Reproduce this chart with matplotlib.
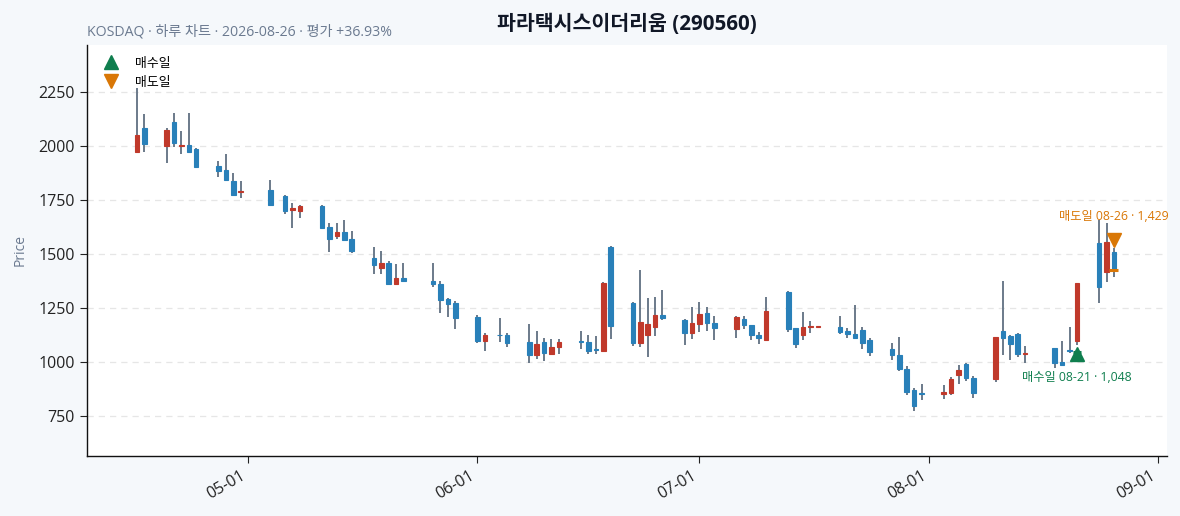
import matplotlib
matplotlib.use("Agg")
import matplotlib.pyplot as plt
import matplotlib.dates as mdates
from matplotlib.lines import Line2D
import numpy as np
import datetime as dt

plt.rcParams['font.family'] = ['Open Sans', 'Noto Sans CJK KR', 'DejaVu Sans']

# ---------------- data ----------------
dates = ["2026-04-16", "2026-04-17", "2026-04-20", "2026-04-21", "2026-04-22", "2026-04-23", "2026-04-24",
         "2026-04-27", "2026-04-28", "2026-04-29", "2026-04-30", "2026-05-04", "2026-05-06", "2026-05-07",
         "2026-05-08", "2026-05-11", "2026-05-12", "2026-05-13", "2026-05-14", "2026-05-15", "2026-05-18",
         "2026-05-19", "2026-05-20", "2026-05-21", "2026-05-22", "2026-05-26", "2026-05-27", "2026-05-28",
         "2026-05-29", "2026-06-01", "2026-06-02", "2026-06-04", "2026-06-05", "2026-06-08", "2026-06-09",
         "2026-06-10", "2026-06-11", "2026-06-12", "2026-06-15", "2026-06-16", "2026-06-17", "2026-06-18",
         "2026-06-19", "2026-06-22", "2026-06-23", "2026-06-24", "2026-06-25", "2026-06-26", "2026-06-29",
         "2026-06-30", "2026-07-01", "2026-07-02", "2026-07-03", "2026-07-06", "2026-07-07", "2026-07-08",
         "2026-07-09", "2026-07-10", "2026-07-13", "2026-07-14", "2026-07-15", "2026-07-16", "2026-07-17",
         "2026-07-20", "2026-07-21", "2026-07-22", "2026-07-23", "2026-07-24", "2026-07-27", "2026-07-28",
         "2026-07-29", "2026-07-30", "2026-07-31", "2026-08-03", "2026-08-04", "2026-08-05", "2026-08-06",
         "2026-08-07", "2026-08-10", "2026-08-11", "2026-08-12", "2026-08-13", "2026-08-14", "2026-08-18",
         "2026-08-19", "2026-08-20", "2026-08-21", "2026-08-24", "2026-08-25", "2026-08-26"]

opens = [1975, 2083, 2003, 2111, 2000, 2005, 1987, 1909, 1890, 1839, 1788, 1798, 1770, 1705, 1699, 1723, 1626,
         1586, 1603, 1571, 1481, 1438, 1460, 1364, 1389, 1376, 1362, 1293, 1273, 1211, 1100, 1126, 1125, 1092,
         1035, 1092, 1040, 1069, 1097, 1095, 1059, 1054, 1532, 1272, 1091, 1124, 1162, 1218, 1196, 1134, 1175,
         1227, 1181, 1155, 1198, 1170, 1124, 1105, 1325, 1157, 1124, 1162, 1165, 1162, 1145, 1130, 1150, 1102,
         1060, 1032, 967, 872, 856, 851, 859, 941, 990, 925, 924, 1145, 1122, 1131, 1038, 1065, 1001, 1056,
         1100, 1551, 1419, 1509]
highs = [2268, 2148, 2087, 2153, 2072, 2153, 1990, 1932, 1964, 1875, 1839, 1844, 1775, 1736, 1727, 1727, 1643,
         1643, 1657, 1606, 1532, 1517, 1468, 1454, 1460, 1458, 1376, 1298, 1282, 1219, 1137, 1204, 1134, 1176,
         1144, 1111, 1106, 1106, 1144, 1128, 1119, 1370, 1538, 1277, 1425, 1299, 1304, 1335, 1198, 1254, 1277,
         1254, 1215, 1215, 1215, 1172, 1141, 1301, 1330, 1160, 1234, 1193, 1167, 1215, 1157, 1267, 1165, 1114,
         1088, 1116, 982, 880, 898, 892, 930, 986, 995, 938, 1117, 1375, 1127, 1133, 1076, 1067, 1096, 1162,
         1366, 1659, 1643, 1530]
lows = [1975, 1972, 1921, 1998, 1964, 1968, 1903, 1859, 1844, 1776, 1759, 1730, 1685, 1620, 1667, 1616, 1509,
        1569, 1563, 1507, 1407, 1407, 1359, 1364, 1375, 1347, 1227, 1208, 1153, 1088, 1054, 1092, 1069, 995,
        1015, 1007, 1037, 1037, 1062, 1037, 1037, 1054, 1107, 1075, 1069, 1025, 1122, 1196, 1079, 1106, 1139,
        1145, 1103, 1111, 1154, 1101, 1083, 1105, 1141, 1065, 1103, 1134, 1165, 1131, 1111, 1113, 1060, 1029,
        1011, 960, 849, 774, 825, 830, 850, 898, 915, 835, 906, 1032, 1008, 1024, 995, 971, 989, 1041,
        1080, 1273, 1373, 1393]
closes = [2052, 2009, 2077, 2014, 2005, 1975, 1906, 1887, 1846, 1776, 1795, 1730, 1702, 1712, 1723, 1623, 1569,
          1603, 1566, 1515, 1452, 1458, 1364, 1389, 1375, 1362, 1290, 1271, 1206, 1100, 1128, 1124, 1091, 1035,
          1083, 1041, 1069, 1092, 1093, 1051, 1056, 1366, 1169, 1091, 1185, 1176, 1218, 1204, 1134, 1180, 1224,
          1180, 1160, 1207, 1170, 1124, 1113, 1236, 1154, 1083, 1162, 1168, 1167, 1141, 1130, 1113, 1088, 1045,
          1031, 967, 864, 799, 854, 861, 922, 963, 925, 859, 1117, 1111, 1085, 1038, 1044, 994, 989, 1052,
          1366, 1347, 1558, 1432]

buy_date, buy_price = "2026-08-21", 1048
sell_date, sell_price = "2026-08-26", 1429
title = "파라택시스이더리움 (290560)"
subtitle = "KOSDAQ · 하루 차트 · 2026-08-26 · 평가 +36.93%"
legend_labels = ["매수일", "매도일"]

# ---------------- style ----------------
UP = "#c0392b"
DOWN = "#2980b9"
WICK = "#6b7a8a"
BUY = "#0f7e4e"
SELL = "#d97706"
BG = "#f5f8fb"

fig = plt.figure(figsize=(11.8, 5.16), dpi=100, facecolor=BG)
ax = fig.add_axes([0.0735, 0.117, 0.9152, 0.796])
ax.set_facecolor("white")

x = mdates.date2num([dt.datetime.strptime(d, "%Y-%m-%d") for d in dates])
o = np.array(opens, float)
h = np.array(highs, float)
l = np.array(lows, float)
c = np.array(closes, float)
up = c >= o
cols = np.where(up, UP, DOWN)

# wicks
ax.vlines(x, l, h, colors=WICK, linewidth=1.4, zorder=2)
# bodies
bottom = np.minimum(o, c)
height = np.maximum(np.abs(c - o), 3.0)
ax.bar(x, height, bottom=bottom, width=0.62, color=cols, edgecolor=cols, linewidth=0.8, zorder=3)

# buy / sell markers
bx = mdates.date2num(dt.datetime.strptime(buy_date, "%Y-%m-%d"))
sx = mdates.date2num(dt.datetime.strptime(sell_date, "%Y-%m-%d"))
ax.hlines([buy_price], bx - 0.55, bx + 0.55, colors=BUY, linewidth=2.2, zorder=4)
ax.hlines([sell_price], sx - 0.6, sx + 0.6, colors=SELL, linewidth=2.2, zorder=4)
ax.plot([bx], [buy_price * 0.99], marker="^", color=BUY, markersize=10, linestyle="none", zorder=5)
ax.plot([sx], [sell_price * 1.095], marker="v", color=SELL, markersize=10, linestyle="none", zorder=5)
ax.annotate(f"매수일 {buy_date[5:]} · {buy_price:,}", (bx, buy_price * 0.99), xytext=(0, -17),
            textcoords="offset points", ha="center", va="center", fontsize=8.8, color=BUY, fontweight="medium")
ax.annotate(f"매도일 {sell_date[5:]} · {sell_price:,}", (sx, sell_price * 1.095), xytext=(0, 17),
            textcoords="offset points", ha="center", va="center", fontsize=8.8, color=SELL, fontweight="medium")

# axes
ax.set_xlim(mdates.date2num(dt.datetime(2026, 4, 9, 5)), mdates.date2num(dt.datetime(2026, 9, 2, 3)))
ax.set_ylim(567, 2470)
ax.set_yticks([750, 1000, 1250, 1500, 1750, 2000, 2250])
ax.xaxis.set_major_locator(mdates.MonthLocator())
ax.xaxis.set_major_formatter(mdates.DateFormatter("%m-%d"))
plt.setp(ax.get_xticklabels(), rotation=30, ha="right")
ax.tick_params(axis="both", labelsize=11.5, colors="#222222", length=5)
ax.grid(axis="y", linestyle=(0, (5, 4)), color="#e6e6e6", linewidth=0.9)
ax.set_axisbelow(True)
for s in ["top", "right"]:
    ax.spines[s].set_visible(False)
for s in ["left", "bottom"]:
    ax.spines[s].set_color("#111111")
    ax.spines[s].set_linewidth(1.0)

ax.set_ylabel("Price", fontsize=10, color="#6b7a90", labelpad=8)
ax.set_title(title, fontsize=14.8, fontweight="bold", color="#111827", pad=11)
ax.text(0.0, 1.012, subtitle, transform=ax.transAxes, fontsize=10.2, color="#6b7a90", ha="left", va="bottom")

handles = [Line2D([0], [0], marker="^", color=BUY, linestyle="none", markersize=10),
           Line2D([0], [0], marker="v", color=SELL, linestyle="none", markersize=10)]
ax.legend(handles, legend_labels, loc="upper left", frameon=False, fontsize=9.3,
          handletextpad=0.85, labelspacing=0.5, borderaxespad=0.5)

fig.savefig("out.png", dpi=100, facecolor=BG)
